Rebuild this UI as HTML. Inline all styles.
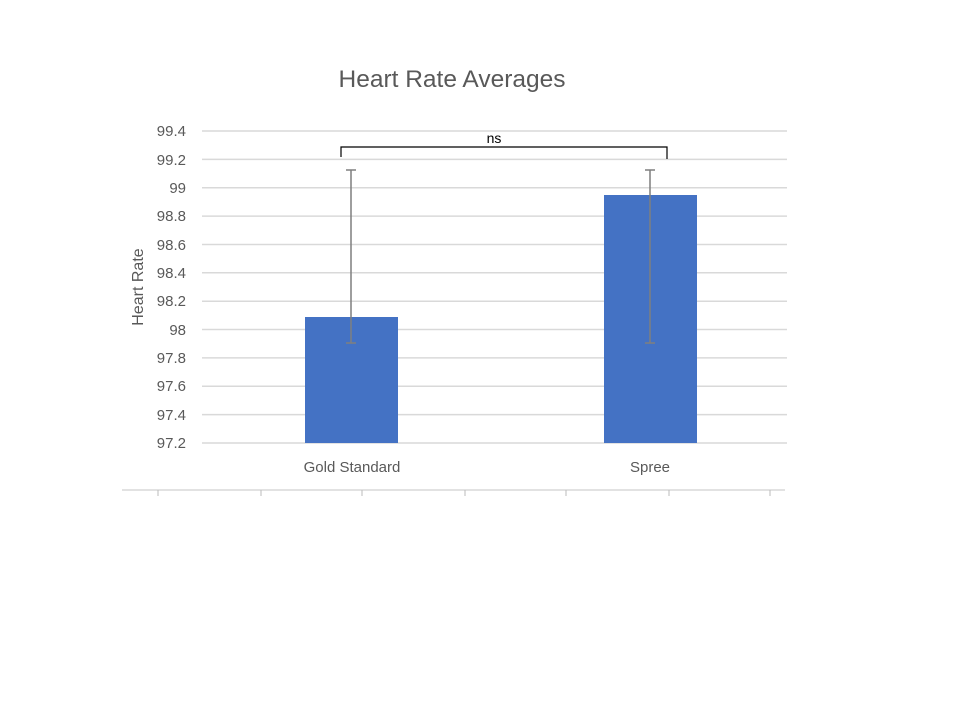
<!DOCTYPE html>
<html><head><style>body{margin:0;background:#fff}svg{display:block}</style></head><body>
<svg width="960" height="720" xmlns="http://www.w3.org/2000/svg" font-family="Liberation Sans, sans-serif">
<rect width="960" height="720" fill="#fff"/>
<text x="452" y="87" text-anchor="middle" font-size="24.5" fill="#595959">Heart Rate Averages</text>
<g stroke="#d9d9d9" stroke-width="1.5">
<line x1="202" x2="787" y1="131" y2="131"/><line x1="202" x2="787" y1="159.4" y2="159.4"/>
<line x1="202" x2="787" y1="187.7" y2="187.7"/><line x1="202" x2="787" y1="216.1" y2="216.1"/>
<line x1="202" x2="787" y1="244.5" y2="244.5"/><line x1="202" x2="787" y1="272.8" y2="272.8"/>
<line x1="202" x2="787" y1="301.2" y2="301.2"/><line x1="202" x2="787" y1="329.5" y2="329.5"/>
<line x1="202" x2="787" y1="357.9" y2="357.9"/><line x1="202" x2="787" y1="386.3" y2="386.3"/>
<line x1="202" x2="787" y1="414.6" y2="414.6"/><line x1="202" x2="787" y1="443" y2="443"/>
<line x1="122" x2="785" y1="490" y2="490"/>
</g>
<g font-size="15" fill="#595959" text-anchor="end">
<text x="186" y="136">99.4</text><text x="186" y="165">99.2</text><text x="186" y="193">99</text>
<text x="186" y="221">98.8</text><text x="186" y="250">98.6</text><text x="186" y="278">98.4</text>
<text x="186" y="306">98.2</text><text x="186" y="335">98</text><text x="186" y="363">97.8</text>
<text x="186" y="391">97.6</text><text x="186" y="420">97.4</text><text x="186" y="448">97.2</text>
</g>
<text transform="translate(143,287) rotate(-90)" text-anchor="middle" font-size="16" fill="#595959">Heart Rate</text>
<rect x="305" y="317" width="93" height="126" fill="#4472c4"/>
<rect x="604" y="195" width="93" height="248" fill="#4472c4"/>
<g stroke="#7f7f7f" stroke-width="1.5">
<line x1="351" x2="351" y1="170" y2="343"/><line x1="346" x2="356" y1="170" y2="170"/><line x1="346" x2="356" y1="343" y2="343"/>
<line x1="650" x2="650" y1="170" y2="343"/><line x1="645" x2="655" y1="170" y2="170"/><line x1="645" x2="655" y1="343" y2="343"/>
</g>
<path d="M341 157 V147 H667 V159" fill="none" stroke="#000" stroke-width="1.2"/>
<text x="494" y="143" text-anchor="middle" font-size="14" fill="#000">ns</text>
<g font-size="15" fill="#595959" text-anchor="middle">
<text x="352" y="472">Gold Standard</text><text x="650" y="472">Spree</text>
</g>
<g stroke="#bbb" stroke-width="1">
<line x1="158" x2="158" y1="490" y2="496"/><line x1="261" x2="261" y1="490" y2="496"/>
<line x1="362" x2="362" y1="490" y2="496"/><line x1="465" x2="465" y1="490" y2="496"/>
<line x1="566" x2="566" y1="490" y2="496"/><line x1="669" x2="669" y1="490" y2="496"/>
<line x1="770" x2="770" y1="490" y2="496"/>
</g>
</svg>
</body></html>
